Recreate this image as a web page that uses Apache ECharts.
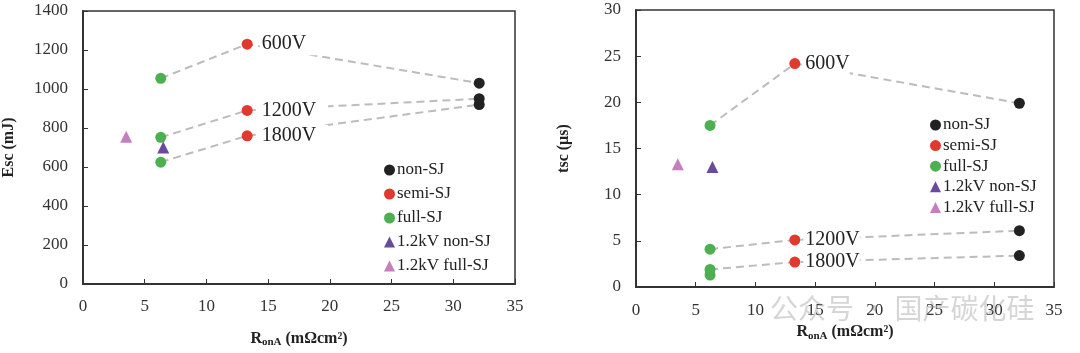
<!DOCTYPE html>
<html>
<head>
<meta charset="utf-8">
<script src="https://cdn.jsdelivr.net/npm/echarts@6/dist/echarts.min.js"></script>
<style>
  html, body { margin: 0; padding: 0; background: #fff; }
  #chart { width: 1080px; height: 353px; }
</style>
</head>
<body>
<div id="chart"></div>
<script>
// left chart: Esc (mJ) vs RonA
const leftNonSJ = [[32.1, 1030], [32.1, 950], [32.1, 920]];
const leftSemiSJ = [[13.3, 1230], [13.3, 890], [13.3, 760]];
const leftFullSJ = [[6.3, 1055], [6.3, 752], [6.3, 625]];
const leftNonSJ12 = [[6.5, 700]];
const leftFullSJ12 = [[3.5, 755]];

// right chart: tsc (us) vs RonA
const rightNonSJ = [[32.1, 19.9], [32.1, 6.1], [32.1, 3.4]];
const rightSemiSJ = [[13.3, 24.2], [13.3, 5.1], [13.3, 2.7]];
const rightFullSJ = [[6.2, 17.5], [6.2, 4.1], [6.2, 1.9], [6.2, 1.3]];
const rightNonSJ12 = [[6.4, 13.0]];
const rightFullSJ12 = [[3.5, 13.3]];

const voltages = ["600V", "1200V", "1800V"];
const legendNames = ["non-SJ", "semi-SJ", "full-SJ", "1.2kV non-SJ", "1.2kV full-SJ"];
const colors = ["#222222", "#e2382d", "#4cb051", "#6a4a9c", "#c57fbc"];

const serif = "Liberation Serif";

function lineSeries(idx, full, semi, non) {
  return voltages.map(function(v, i) {
    return {
      name: v,
      type: "line",
      xAxisIndex: idx,
      yAxisIndex: idx,
      z: 2,
      symbol: "none",
      silent: true,
      lineStyle: { color: "#bcbcbc", width: 2, type: [8, 5] },
      data: [full[i], semi[i], non[i]]
    };
  });
}

function scatterSeries(idx, sets, dist, padRight) {
  return sets.map(function(d, i) {
    let data = d;
    if (i === 1) {
      // semi-SJ points carry the voltage labels
      data = d.map(function(p, j) {
        return {
          value: p,
          label: {
            show: true,
            position: "right",
            distance: dist,
            formatter: voltages[j],
            fontFamily: serif,
            fontSize: 20,
            color: "#222",
            backgroundColor: "#fff",
            padding: [1, padRight, 1, 2]
          }
        };
      });
    }
    return {
      name: legendNames[i],
      type: "scatter",
      xAxisIndex: idx,
      yAxisIndex: idx,
      z: 3,
      symbol: i < 3 ? "circle" : "triangle",
      symbolSize: i < 3 ? 11 : 12,
      itemStyle: { color: colors[i], opacity: 1 },
      labelLayout: { hideOverlap: false },
      data: data
    };
  });
}

function xAxis(idx, gap, margin) {
  return {
    gridIndex: idx,
    type: "value",
    min: 0,
    max: 35,
    interval: 5,
    name: "{r|R}{s|onA}{r| (mΩcm²)}",
    nameLocation: "middle",
    nameGap: gap,
    nameTextStyle: {
      rich: {
        r: { fontFamily: serif, fontWeight: "bold", fontSize: 16, color: "#222" },
        s: { fontFamily: serif, fontWeight: "bold", fontSize: 11, color: "#222", padding: [8, 0, 0, 0] }
      }
    },
    axisLine: { show: true, onZero: false, lineStyle: { color: "#333", width: 2 } },
    axisTick: { show: true, inside: true, length: 5, lineStyle: { color: "#333" } },
    axisLabel: { fontFamily: serif, fontSize: 17, color: "#333", margin: margin },
    splitLine: { show: false }
  };
}

function yAxis(idx, max, interval, name, gap) {
  return {
    gridIndex: idx,
    type: "value",
    min: 0,
    max: max,
    interval: interval,
    name: name,
    nameLocation: "middle",
    nameGap: gap,
    nameTextStyle: { fontFamily: serif, fontWeight: "bold", fontSize: 16, color: "#222" },
    axisLine: { show: true, onZero: false, lineStyle: { color: "#333", width: 2 } },
    axisTick: { show: true, inside: true, length: 5, lineStyle: { color: "#333" } },
    axisLabel: {
      fontFamily: serif, fontSize: 17, color: "#333", margin: 15,
      formatter: function(v) { return String(v); }
    },
    splitLine: { show: false }
  };
}

function legend(left, top, gap) {
  return {
    orient: "vertical",
    left: left,
    top: top,
    data: legendNames,
    itemWidth: 11,
    itemHeight: 11,
    itemGap: gap,
    selectedMode: false,
    textStyle: { fontFamily: serif, fontSize: 17, color: "#222", padding: [0, 0, 0, -3], lineHeight: 20 }
  };
}

const chart = echarts.init(document.getElementById("chart"));
chart.setOption({
  animation: false,
  backgroundColor: "#fff",
  grid: [
    { left: 82, top: 11, width: 433, height: 273, show: true, borderColor: "#333", borderWidth: 1.5 },
    { left: 636, top: 10, width: 418, height: 277, show: true, borderColor: "#333", borderWidth: 1.5 }
  ],
  xAxis: [xAxis(0, 45, 14), xAxis(1, 34, 15)],
  yAxis: [yAxis(0, 1400, 200, "Esc (mJ)", 66), yAxis(1, 30, 5, "tsc (µs)", 64)],
  legend: [legend(379, 155, 4), legend(925, 110, 0.6)],
  graphic: [
    {
      type: "text",
      left: 770,
      top: 294,
      z: 100,
      silent: true,
      style: {
        text: "公众号 · 国产碳化硅",
        font: "28px 'Noto Sans CJK SC'",
        fill: "rgba(150,150,150,0.4)"
      }
    }
  ],
  series: [].concat(
    lineSeries(0, leftFullSJ, leftSemiSJ, leftNonSJ),
    lineSeries(1, rightFullSJ, rightSemiSJ, rightNonSJ),
    scatterSeries(0, [leftNonSJ, leftSemiSJ, leftFullSJ, leftNonSJ12, leftFullSJ12], 7, 12),
    scatterSeries(1, [rightNonSJ, rightSemiSJ, rightFullSJ, rightNonSJ12, rightFullSJ12], 3, 0)
  )
});
</script>
</body>
</html>
